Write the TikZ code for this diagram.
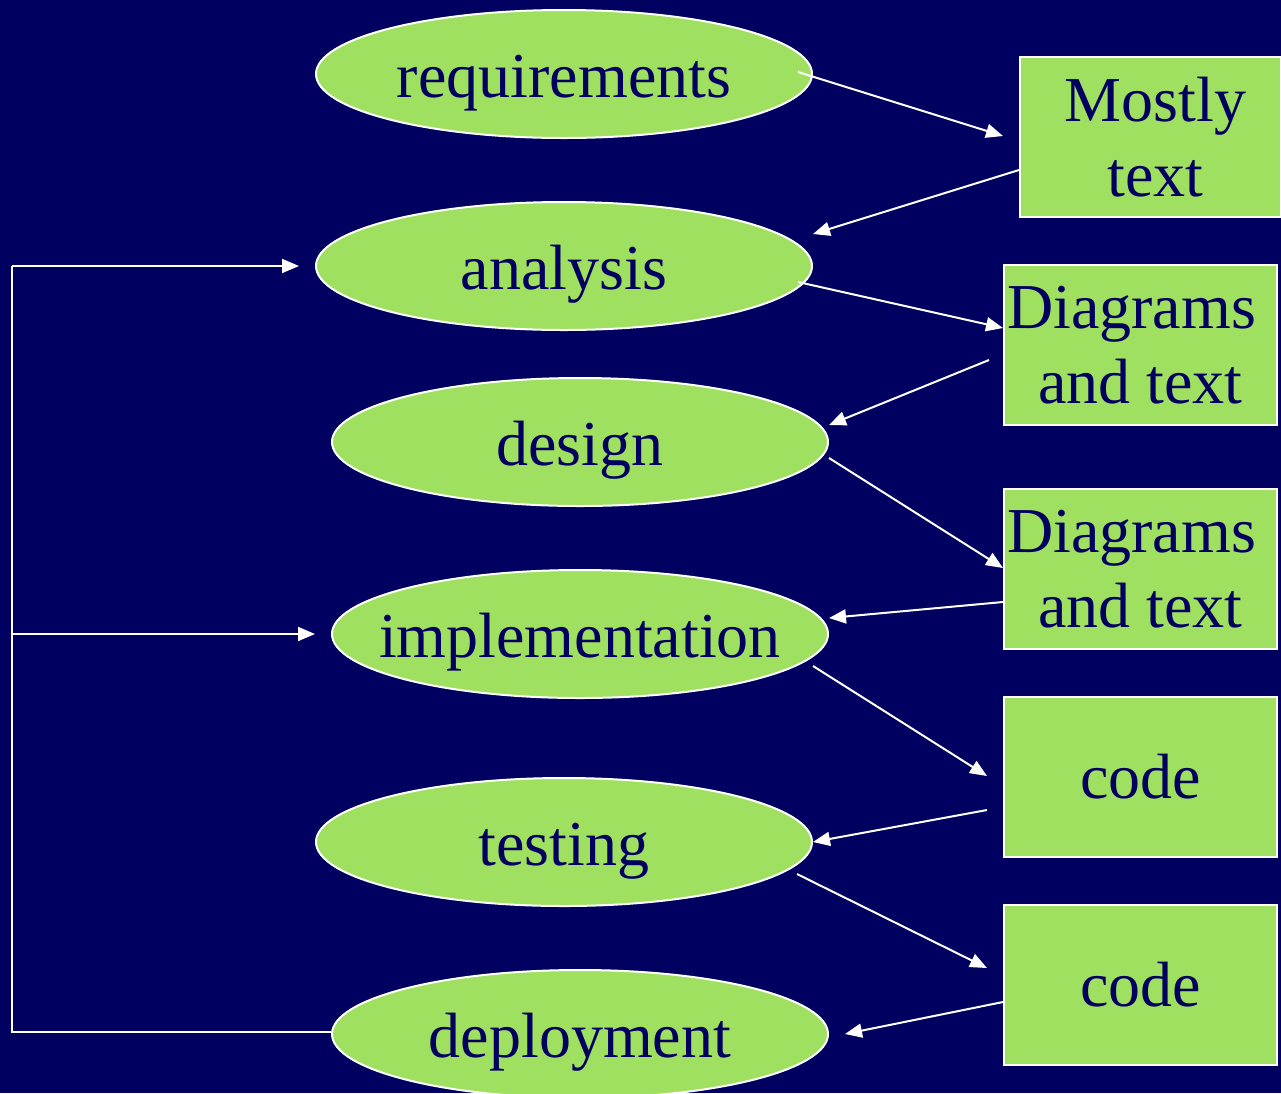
\documentclass[tikz,border=0pt]{standalone}
\usepackage{fontspec}
\setmainfont{Liberation Serif}
\usetikzlibrary{shapes.geometric,arrows.meta}
\definecolor{navy}{HTML}{000060}
\definecolor{leaf}{HTML}{A0E060}
\begin{document}
\begin{tikzpicture}[x=1pt,y=-1pt,
  phase/.style={ellipse,draw=white,line width=2pt,fill=leaf,text=navy,
    minimum width=496pt,minimum height=128pt,inner sep=0pt,
    text height=46pt,text depth=0pt,
    font=\fontsize{64}{75}\selectfont},
  product/.style={rectangle,draw=white,line width=2pt,fill=leaf,text=navy,
    minimum width=273pt,minimum height=160pt,inner sep=0pt,align=center,
    font=\fontsize{64}{75}\selectfont},
  flow/.style={draw=white,line width=2pt,-{Triangle[length=17pt,width=14pt]}},
  loopline/.style={draw=white,line width=2pt}]
\fill[navy] (0,0) rectangle (1281,1093);
\useasboundingbox (0,0) rectangle (1281,1093);
\begin{scope}
\clip (0,0) rectangle (1281,1093);
% development phases
\node[phase] (req) at (564,74) {requirements};
\node[phase] (ana) at (564,266) {analysis};
\node[phase] (des) at (580,442) {design};
\node[phase] (imp) at (580,634) {\makebox[0pt]{implementation}};
\node[phase] (tes) at (564,842) {testing};
\node[phase] (dep) at (580,1034) {deployment};
% artefacts produced by each phase
\node[product,minimum width=261pt] (mt) at (1150.5,137)
  {\hspace*{10pt}Mostly\\\hspace*{10pt}text};
\node[product] (d1) at (1140.5,345) {Diagrams\hspace*{18pt}\\and text};
\node[product] (d2) at (1140.5,569) {Diagrams\hspace*{18pt}\\and text};
\node[product] (c1) at (1140.5,777) {code};
\node[product] (c2) at (1140.5,985) {code};
\end{scope}
% phase -> artefact -> next phase
\draw[flow] ([shift={(-15,-2)}]req.east) -- ([shift={(-16,-1)}]mt.west);
\draw[flow] ([shift={(0,33)}]mt.west) -- ([shift={(0,-32)}]ana.east);
\draw[flow] ([shift={(-15,16)}]ana.east) -- ([shift={(0,-17)}]d1.west);
\draw[flow] ([shift={(-14,15)}]d1.west) -- ([shift={(0,-17)}]des.east);
\draw[flow] ([shift={(0,16)}]des.east) -- ([shift={(0,-1)}]d2.west);
\draw[flow] ([shift={(0,33)}]d2.west) -- ([shift={(0,-16)}]imp.east);
\draw[flow] ([shift={(-16,32)}]imp.east) -- ([shift={(-16,-1)}]c1.west);
\draw[flow] ([shift={(-16,33)}]c1.west) -- (tes.east);
\draw[flow] ([shift={(-16,32)}]tes.east) -- ([shift={(-16,-17)}]c2.west);
\draw[flow] ([shift={(0,17)}]c2.west) -- ([shift={(16,0)}]dep.east);
% feedback loop from deployment
\coordinate (lb) at (12,1032);
\coordinate (lt) at (12,266);
\coordinate (lm) at (12,634);
\draw[loopline] ([shift={(0,-2)}]dep.west) -- (lb) -- (lt);
\draw[flow] (lt) -- ([shift={(-16,0)}]ana.west);
\draw[flow] (lm) -- ([shift={(-16,0)}]imp.west);
\end{tikzpicture}
\end{document}
